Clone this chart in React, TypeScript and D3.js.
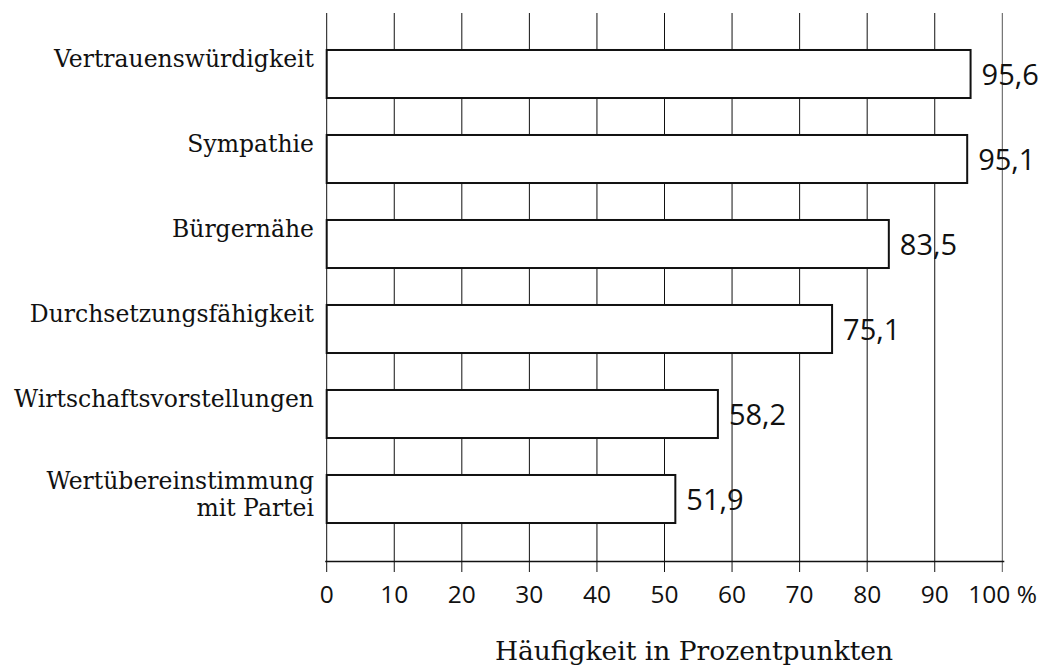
import React from "react";
import * as d3 from "d3";

const categories: string[][] = [
  ["Vertrauenswürdigkeit"],
  ["Sympathie"],
  ["Bürgernähe"],
  ["Durchsetzungsfähigkeit"],
  ["Wirtschaftsvorstellungen"],
  ["Wertübereinstimmung", "mit Partei"],
];
const values: number[] = [95.6, 95.1, 83.5, 75.1, 58.2, 51.9];
const valueLabels: string[] = ["95,6", "95,1", "83,5", "75,1", "58,2", "51,9"];
const ticks: number[] = [0, 10, 20, 30, 40, 50, 60, 70, 80, 90, 100];
const tickLabels: string[] = ["0", "10", "20", "30", "40", "50", "60", "70", "80", "90", "100 %"];
const axisTitle = "Häufigkeit in Prozentpunkten";

const W = 1051;
const H = 667;

export default function App() {
  const x = d3.scaleLinear().domain([0, 100]).range([326.7, 1002.3]);
  const keys = categories.map((c) => c.join(" "));
  const y = d3
    .scaleBand<string>()
    .domain(keys)
    .range([31.5, 541.5])
    .paddingInner(0.435)
    .paddingOuter(0.2175);
  const gridTop = 13;
  const axisY = 561.5;
  const gridBottom = 572;
  const serif = "'DejaVu Serif', serif";
  const sans = "'Open Sans', sans-serif";

  return (
    <svg
      width={W}
      height={H}
      style={{ position: "absolute", left: 0, top: 0, background: "#fff" }}
    >
      {/* grid lines */}
      {ticks.map((t) => (
        <line
          key={"g" + t}
          x1={x(t)}
          x2={x(t)}
          y1={gridTop}
          y2={gridBottom}
          stroke={t === 100 ? "#555" : "#111"}
          strokeWidth={1}
        />
      ))}
      {/* axis line */}
      <line x1={x(0) - 1.5} x2={x(100) + 2} y1={axisY} y2={axisY} stroke="#111" strokeWidth={1.3} />
      {/* bars */}
      {keys.map((k, i) => (
        <rect
          key={"b" + k}
          x={x(0)}
          y={y(k)!}
          width={x(values[i]) - x(0) - 2}
          height={y.bandwidth()}
          fill="#fff"
          stroke="#111"
          strokeWidth={2}
        />
      ))}
      {/* value labels */}
      {keys.map((k, i) => (
        <text
          key={"v" + k}
          x={x(values[i]) + 9}
          y={y(k)! + y.bandwidth() / 2 + 11}
          fontFamily={sans}
          fontSize={29}
          fill="#111"
        >
          {valueLabels[i]}
        </text>
      ))}
      {/* category labels */}
      {categories.map((lines, i) => {
        const k = keys[i];
        const top = y(k)!;
        const multi = lines.length > 1;
        return (
          <text
            key={"c" + k}
            textAnchor="end"
            fontFamily={serif}
            fontSize={23.5}
            fill="#111"
          >
            {lines.map((ln, j) => (
              <tspan key={j} x={314} y={top + (multi ? 14 : 17) + j * 27}>
                {ln}
              </tspan>
            ))}
          </text>
        );
      })}
      {/* tick labels */}
      {ticks.map((t, i) => (
        <text
          key={"t" + t}
          x={t === 100 ? x(t) - 34 : x(t)}
          y={603}
          textAnchor={t === 100 ? "start" : "middle"}
          fontFamily={sans}
          fontSize={24.5}
          fill="#111"
        >
          {tickLabels[i]}
        </text>
      ))}
      {/* axis title */}
      <text
        x={694}
        y={660}
        textAnchor="middle"
        fontFamily={serif}
        fontSize={26.5}
        fill="#111"
      >
        {axisTitle}
      </text>
    </svg>
  );
}
